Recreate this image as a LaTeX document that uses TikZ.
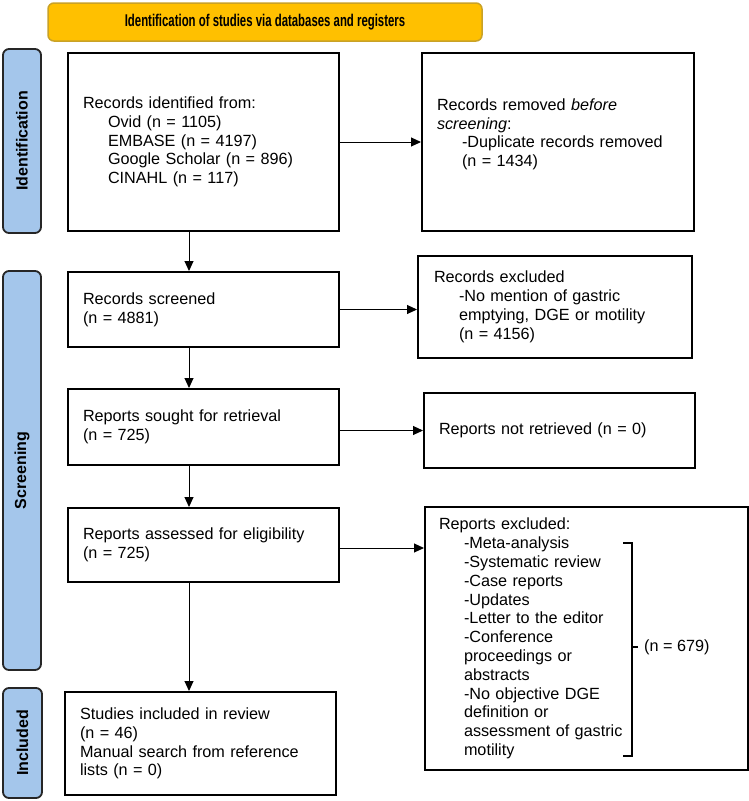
\documentclass[tikz,border=0pt]{standalone}
\usepackage{fontspec}
\usepackage{graphicx}
\setmainfont{Liberation Sans}
\usetikzlibrary{arrows.meta,calc}
\definecolor{bannerfill}{HTML}{FFC000}
\definecolor{bannerline}{HTML}{C9A227}
\definecolor{sidefill}{HTML}{A4C6EB}
\definecolor{sideline}{HTML}{262626}
\newcommand{\ind}{\hspace*{25pt}}
\begin{document}
\begin{tikzpicture}[x=1pt,y=-1pt,
  box/.style={draw=black, line width=2pt, rectangle, inner xsep=15pt, inner ysep=0pt,
              align=left, font=\fontsize{16.2}{18.8}\selectfont},
  side/.style={draw=sideline, fill=sidefill, line width=1.8pt, rounded corners=6pt,
               rotate=90, minimum height=38pt, inner sep=0pt,
               font=\fontsize{16}{19}\selectfont\bfseries},
  arr/.style={line width=1pt, -{Triangle[length=10pt,width=9pt]}}]
\useasboundingbox (0,0) rectangle (749,801);

% banner
\node[draw=bannerline, fill=bannerfill, line width=1.5pt, rounded corners=6pt,
      minimum width=434pt, minimum height=38pt, inner sep=0pt] (T) at (265,22)
      {\scalebox{0.67}[1]{\fontsize{17}{20}\selectfont\bfseries Identification of studies via databases and registers}};

% side bars
\node[side, minimum width=184pt] (S1) at (22,141) {Identification};
\node[side, minimum width=399pt] (S2) at (22,470.5) {Screening};
\node[side, minimum width=110pt, minimum height=39pt] (S3) at (22.5,743) {Included};

% boxes
\node[box, minimum width=271pt, minimum height=178pt, text width=241pt] (B1) at (203.5,142)
  {Records identified from:\\
   \ind Ovid (n = 1105)\\
   \ind EMBASE (n = 4197)\\
   \ind Google Scholar (n = 896)\\
   \ind CINAHL (n = 117)};
\node[box, minimum width=272pt, minimum height=178pt, text width=242pt] (B2) at (558,142)
  {Records removed \emph{before}\\
   \emph{screening}:\\
   \ind -Duplicate records removed\\
   \ind (n = 1434)\\
   \mbox{}};
\node[box, minimum width=271pt, minimum height=75pt, text width=241pt] (B3) at (203.5,309.5)
  {Records screened\\
   (n = 4881)};
\node[box, minimum width=272pt, minimum height=102pt, text width=242pt, inner xsep=16pt] (B4) at (555,307)
  {Records excluded\\
   \ind -No mention of gastric\\
   \ind emptying, DGE or motility\\
   \ind (n = 4156)};
\node[box, minimum width=271pt, minimum height=76pt, text width=241pt] (B5) at (203.5,427)
  {Reports sought for retrieval\\
   (n = 725)};
\node[box, minimum width=271pt, minimum height=75pt, text width=241pt] (B6) at (559.5,430.5)
  {Reports not retrieved (n = 0)};
\node[box, minimum width=271pt, minimum height=74pt, text width=241pt] (B7) at (203.5,545)
  {Reports assessed for eligibility\\
   (n = 725)};
\node[box, minimum width=323pt, minimum height=263pt, text width=295pt, inner xsep=14pt] (B8) at (586.5,638.5)
  {Reports excluded:\\
   \ind -Meta-analysis\\
   \ind -Systematic review\\
   \ind -Case reports\\
   \ind -Updates\\
   \ind -Letter to the editor\\
   \ind -Conference\\
   \ind proceedings or\\
   \ind abstracts\\
   \ind -No objective DGE\\
   \ind definition or\\
   \ind assessment of gastric\\
   \ind motility};
\node[box, minimum width=271pt, minimum height=103pt, text width=241pt] (B9) at (200.5,743.5)
  {Studies included in review\\
   (n = 46)\\
   Manual search from reference\\
   lists (n = 0)};

% bracket and count
\draw[line width=2pt] (623,543) -- (632,543) -- (632,756) -- (623,756);
\draw[line width=2pt] (632,647) -- (638,647);
\node[anchor=west, inner sep=0pt, font=\fontsize{16.2}{18.8}\selectfont] (N679) at (644,647) {(n = 679)};

% arrows
\coordinate (ax) at (189,0);
\draw[arr] (B1.south -| ax) -- (B3.north -| ax);
\draw[arr] (B3.south -| ax) -- (B5.north -| ax);
\draw[arr] (B5.south -| ax) -- (B7.north -| ax);
\draw[arr] (B7.south -| ax) -- (B9.north -| ax);
\draw[arr] (B1.east) -- (B1.east -| B2.west);
\draw[arr] (B3.east) -- (B3.east -| B4.west);
\draw[arr] (B6.west -| B5.east) -- (B6.west);
\draw[arr] ([yshift=-3pt]B7.east) -- ([yshift=-3pt]B7.east -| B8.west);
\end{tikzpicture}
\end{document}
